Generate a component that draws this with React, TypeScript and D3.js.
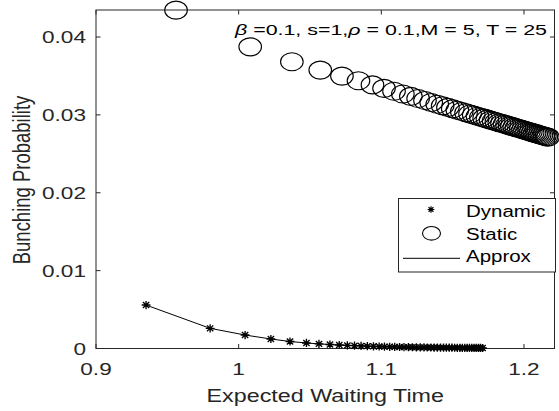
import React from "react";
import * as d3 from "d3";

// ---- data ----
const dynamicX = [
  0.9351, 0.98, 1.0045, 1.0226, 1.036, 1.0475, 1.0563, 1.064, 1.0705, 1.0762,
  1.0812, 1.0858, 1.0902, 1.0945, 1.0985, 1.1022, 1.1059, 1.1094, 1.1128, 1.1159,
  1.119, 1.1218, 1.1246, 1.1273, 1.1299, 1.1323, 1.1347, 1.137, 1.1393, 1.1415,
  1.1436, 1.1456, 1.1476, 1.1495, 1.1514, 1.1533, 1.1551, 1.1568, 1.1585, 1.1602,
  1.1618, 1.1634, 1.165, 1.1665, 1.1681, 1.1695, 1.171,
];
const dynamicY = [
  0.00558, 0.00259, 0.00173, 0.00122, 0.0009, 0.00071, 0.00059, 0.00051, 0.00045, 0.0004,
  0.00036, 0.00033, 0.0003, 0.00028, 0.00026, 0.00024, 0.00022, 0.00021, 0.00019, 0.00018,
  0.00017, 0.00016, 0.00015, 0.00015, 0.00014, 0.00013, 0.00013, 0.00012, 0.00012, 0.00011,
  0.00011, 0.0001, 0.0001, 0.0001, 0.000095, 0.000092, 0.000089, 0.000086, 0.000083, 0.00008,
  0.000078, 0.000076, 0.000074, 0.000072, 0.00007, 0.000068, 0.000066,
];
const staticX = [
  0.9561, 1.0081, 1.0373, 1.0572, 1.0724, 1.084, 1.0938, 1.1019, 1.1089, 1.1151,
  1.1207, 1.1258, 1.1306, 1.135, 1.1392, 1.143, 1.1467, 1.1501, 1.1533, 1.1564,
  1.1594, 1.1622, 1.1648, 1.1674, 1.1698, 1.1721, 1.1744, 1.1766, 1.1787, 1.1807,
  1.1827, 1.1846, 1.1864, 1.1881, 1.1899, 1.1915, 1.1932, 1.1947, 1.1963, 1.1978,
  1.1993, 1.2007, 1.2021, 1.2035, 1.2048, 1.2061, 1.2074, 1.2086, 1.2098, 1.211,
  1.2122, 1.2134, 1.2146, 1.2157, 1.2168,
];
const staticY = [
  0.04345, 0.03874, 0.03682, 0.03575, 0.03498, 0.03439, 0.03385, 0.03341, 0.03303, 0.03269,
  0.03238, 0.03211, 0.03184, 0.0316, 0.03137, 0.03117, 0.03097, 0.03078, 0.0306, 0.03044,
  0.03027, 0.03012, 0.02998, 0.02983, 0.0297, 0.02958, 0.02945, 0.02933, 0.02922, 0.02911,
  0.029, 0.0289, 0.0288, 0.0287, 0.02861, 0.02852, 0.02843, 0.02834, 0.02826, 0.02818,
  0.02809, 0.02802, 0.02794, 0.02786, 0.02779, 0.02772, 0.02765, 0.02759, 0.02752, 0.02745,
  0.02739, 0.02732, 0.02726, 0.0272, 0.02714,
];
const approxX = dynamicX.slice();
const approxY = dynamicY.slice();

const xTicks = [0.9, 1.0, 1.1, 1.2];
const xTickLabels = ["0.9", "1", "1.1", "1.2"];
const yTicks = [0, 0.01, 0.02, 0.03, 0.04];
const yTickLabels = ["0", "0.01", "0.02", "0.03", "0.04"];
const seriesNames = ["Dynamic", "Static", "Approx"];
const xTitle = "Expected Waiting Time";
const yTitle = "Bunching Probability";

const W = 559;
const H = 411;
const FONT = "'Liberation Sans', Arial, Helvetica, sans-serif";
const AX = "#262626";

const left = 96, right = 554.5, top = 10, bottom = 348.5;

function starPath(cx: number, cy: number, rx: number, ry: number) {
  const p = d3.path();
  const d = 0.72;
  p.moveTo(cx - rx, cy); p.lineTo(cx + rx, cy);
  p.moveTo(cx, cy - ry); p.lineTo(cx, cy + ry);
  p.moveTo(cx - rx * d, cy - ry * d); p.lineTo(cx + rx * d, cy + ry * d);
  p.moveTo(cx - rx * d, cy + ry * d); p.lineTo(cx + rx * d, cy - ry * d);
  return p.toString();
}

export default function App() {
  const x = d3.scaleLinear().domain([0.9, 1.2214]).range([left, right]);
  const y = d3.scaleLinear().domain([0, 0.04347]).range([bottom, top]);

  const line = d3
    .line<number>()
    .x((_, i) => x(approxX[i]))
    .y((_, i) => y(approxY[i]));

  const tickLen = 4.5;
  const tickSx = 1.33;

  return (
    <svg
      width={W}
      height={H}
      style={{ position: "absolute", left: 0, top: 0, background: "#fff" }}
      fontFamily={FONT}
    >
      <rect x={0} y={0} width={W} height={H} fill="#fff" />
      {/* ticks */}
      {xTicks.map((t, i) => (
        <g key={"xt" + i}>
          <line x1={x(t)} x2={x(t)} y1={bottom} y2={bottom - tickLen} stroke={AX} />
          <line x1={x(t)} x2={x(t)} y1={top} y2={top + tickLen} stroke={AX} />
          <text
            transform={`translate(${x(t)},375) scale(${tickSx},1)`}
            textAnchor="middle"
            fontSize={17}
            fill={AX}
          >
            {xTickLabels[i]}
          </text>
        </g>
      ))}
      {yTicks.map((t, i) => (
        <g key={"yt" + i}>
          <line x1={left} x2={left + tickLen} y1={y(t)} y2={y(t)} stroke={AX} />
          <line x1={right} x2={right - tickLen} y1={y(t)} y2={y(t)} stroke={AX} />
          <text
            transform={`translate(86,${y(t) + 6}) scale(${tickSx},1)`}
            textAnchor="end"
            fontSize={17}
            fill={AX}
          >
            {yTickLabels[i]}
          </text>
        </g>
      ))}
      {/* box */}
      <rect
        x={left}
        y={top}
        width={right - left}
        height={bottom - top}
        fill="none"
        stroke={AX}
        strokeWidth={1}
      />
      {/* approx line */}
      <path d={line(approxX) || ""} fill="none" stroke="#000" strokeWidth={1} />
      {/* dynamic stars */}
      {dynamicX.map((v, i) => (
        <path
          key={"d" + i}
          d={starPath(x(v), y(dynamicY[i]), 4.4, 4.1)}
          stroke="#000"
          strokeWidth={1.35}
          fill="none"
        />
      ))}
      {/* static circles */}
      {staticX.map((v, i) => (
        <ellipse
          key={"s" + i}
          cx={x(v)}
          cy={y(staticY[i])}
          rx={11.3}
          ry={9}
          fill="none"
          stroke="#000"
          strokeWidth={1.1}
        />
      ))}
      {/* annotation */}
      <text x={235} y={35} fontSize={15} fill="#000" textLength={312} lengthAdjust="spacingAndGlyphs">
        <tspan fontStyle="italic">β</tspan> =0.1, s=1,<tspan fontStyle="italic">ρ</tspan> = 0.1,M = 5, T = 25
      </text>
      {/* legend */}
      <g>
        <rect x={398.5} y={198.5} width={157} height={73.5} fill="#fff" stroke={AX} strokeWidth={1} />
        <path d={starPath(431, 209.5, 3.4, 3.2)} stroke="#000" strokeWidth={1.2} fill="none" />
        <ellipse cx={431.5} cy={233.3} rx={9} ry={6.8} fill="none" stroke="#000" strokeWidth={1.1} />
        <line x1={403} x2={460} y1={258.3} y2={258.3} stroke="#000" strokeWidth={1} />
        {seriesNames.map((n, i) => (
          <text
            key={n}
            transform={`translate(466,${217.3 + i * 22.3}) scale(1.28,1)`}
            fontSize={16}
            fill="#000"
          >
            {n}
          </text>
        ))}
      </g>
      {/* axis titles */}
      <text
        transform={`translate(${(left + right) / 2},401.5) scale(1.26,1)`}
        textAnchor="middle"
        fontSize={18.5}
        fill={AX}
      >
        {xTitle}
      </text>
      <text
        transform={`translate(30,180) scale(1.3,1) rotate(-90)`}
        textAnchor="middle"
        fontSize={18.5}
        fill={AX}
      >
        {yTitle}
      </text>
    </svg>
  );
}
